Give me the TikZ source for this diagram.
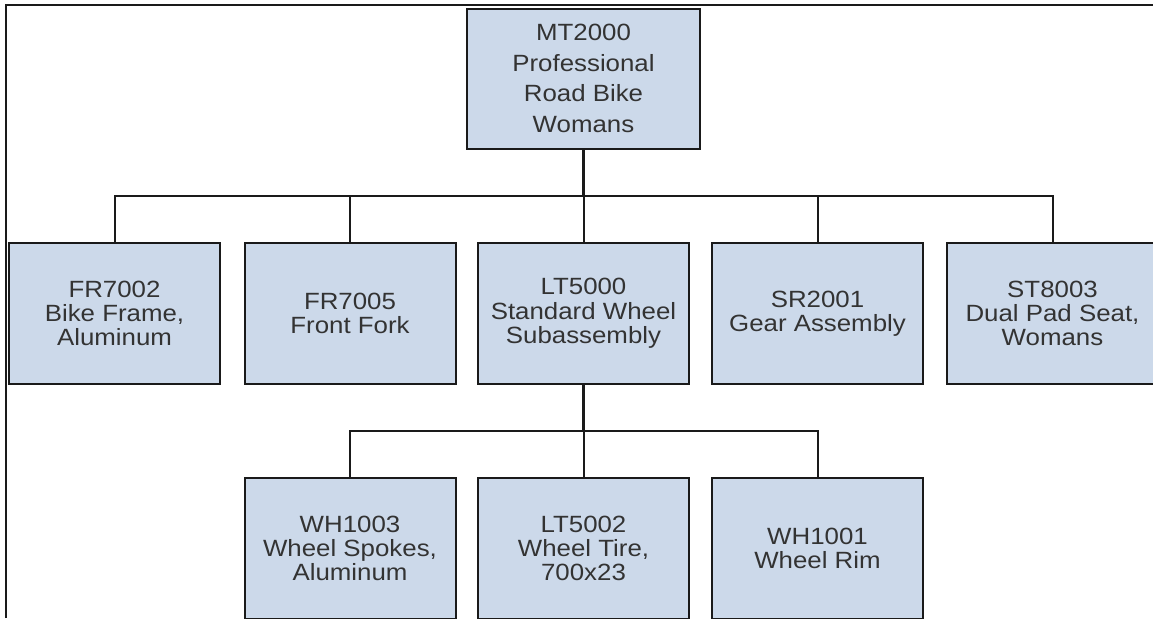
\documentclass[tikz,border=0pt]{standalone}
\usepackage{fontspec}
\setmainfont{Liberation Sans}[FakeStretch=1.1]
\usetikzlibrary{positioning}
\definecolor{bomfill}{HTML}{CCD9EA}
\definecolor{bomink}{HTML}{1A1A1A}
\definecolor{bomtext}{HTML}{333333}
\tikzset{
  part/.style={draw=bomink, fill=bomfill, line width=1pt, align=center, text=bomtext, minimum width=105.5pt, minimum height=70.5pt, inner sep=0pt, font=\fontsize{11.75}{12.15}\selectfont},
  wire/.style={draw=bomink, line width=1pt},
  trunk/.style={wire, line width=1.5pt},
  frame/.style={draw=bomink, line width=0.7pt},
}

\begin{document}
\begin{tikzpicture}[x=0.5pt, y=-0.5pt]
  \useasboundingbox (0,0) rectangle (1153,618);
  \clip (0,0) rectangle (1153,618);
  \draw[frame] (6,618) -- (6,5) -- (1153,5);
  % top assembly
  \node[part, minimum width=116.5pt, minimum height=70pt, font=\fontsize{11.75}{15.3}\selectfont] (mt) at (583.5,78.5) {MT2000\\Professional\\Road Bike\\Womans};
  % first level
  \node[part] (fr2) at (114.5,313.5) {FR7002\\Bike Frame,\\Aluminum};
  \node[part] (fr5) at (350,313.5) {FR7005\\Front Fork};
  \node[part] (lt0) at (583.5,313.5) {LT5000\\Standard Wheel\\Subassembly};
  \node[part] (sr1) at (817.5,313.5) {SR2001\\Gear Assembly};
  \node[part] (st3) at (1052.5,313.5) {ST8003\\Dual Pad Seat,\\Womans};
  % wheel subassembly
  \node[part] (wh3) at (350,548.5) {WH1003\\Wheel Spokes,\\Aluminum};
  \node[part] (lt2) at (583.5,548.5) {LT5002\\Wheel Tire,\\700x23};
  \node[part] (wh1) at (817.5,548.5) {WH1001\\Wheel Rim};
  \coordinate (busA) at (583.5,196);
  \coordinate (busB) at (583.5,431);
  \draw[trunk] (mt.south) -- (busA);
  \foreach \n in {fr2,fr5,lt0,sr1,st3} \draw[wire] (busA) -| (\n.north);
  \draw[trunk] (lt0.south) -- (busB);
  \foreach \n in {wh3,lt2,wh1} \draw[wire] (busB) -| (\n.north);
\end{tikzpicture}
\end{document}
